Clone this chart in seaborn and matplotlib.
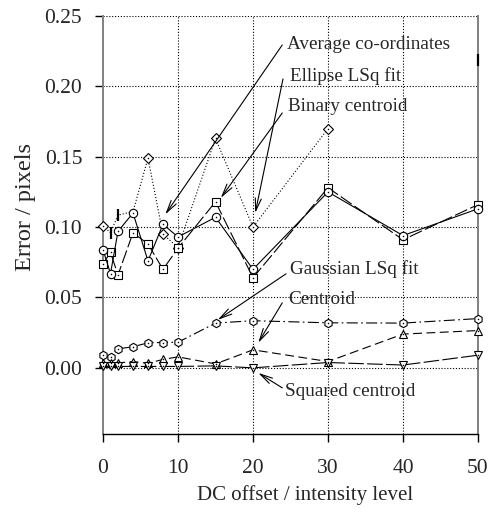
import matplotlib
matplotlib.use("Agg")
import matplotlib.pyplot as plt
import seaborn as sns
import pandas as pd

# ---------------- data ----------------
x_levels = [0, 1, 2, 4, 6, 8, 10, 15, 20, 30, 40, 50]
average_coords = [0.084, 0.067, 0.097, 0.110, 0.076, 0.102, 0.093, 0.107, 0.070, 0.125, 0.094, 0.113]
binary_centroid = [0.074, 0.082, 0.066, 0.096, 0.088, 0.070, 0.085, 0.118, 0.064, 0.128, 0.091, 0.116]
x_ellipse = [0, 1, 2, 4, 6, 8, 10, 15, 20, 30]
ellipse_lsq = [0.101, 0.096, 0.1085, 0.111, 0.149, 0.095, 0.0855, 0.163, 0.100, 0.170]
gaussian_lsq = [0.0092, 0.0078, 0.0135, 0.0150, 0.0178, 0.0180, 0.0182, 0.0318, 0.0335, 0.0320, 0.0318, 0.0350]
centroid = [0.0033, 0.0033, 0.0035, 0.0045, 0.0032, 0.0060, 0.0078, 0.0028, 0.0128, 0.0045, 0.0240, 0.0265]
squared_centroid = [0.0010, 0.0010, 0.0010, 0.0010, 0.0010, 0.0010, 0.0010, 0.0014, 0.0000, 0.0038, 0.0020, 0.0090]
# small vertical bar marks visible in the reference
bar_x = [1, 2, 50]
bar_y = [0.096, 0.1085, 0.2185]

x_ticks = [0, 10, 20, 30, 40, 50]
y_ticks = [0.00, 0.05, 0.10, 0.15, 0.20, 0.25]
x_label = "DC offset / intensity level"
y_label = "Error / pixels"

# annotations: label, text pos, arrow start, arrow tip (data coords)
ann_labels = ["Average co-ordinates", "Ellipse LSq fit", "Binary centroid",
              "Gaussian LSq fit", "Centroid", "Squared centroid"]
ann_text_xy = [(24.5, 0.2301), (24.9, 0.2070), (24.7, 0.1856),
               (24.9, 0.0701), (24.7, 0.0483), (24.3, -0.0168)]
ann_start = [(23.9, 0.2294), (24.0, 0.2053), (23.9, 0.1811),
             (24.4, 0.0668), (23.9, 0.0462), (23.9, -0.0142)]
ann_tip = [(8.3, 0.109), (20.3, 0.110), (15.7, 0.1207),
           (15.3, 0.0341), (20.7, 0.0178), (20.7, -0.0036)]

# ---------------- style ----------------
sns.set_style("ticks")
plt.rcParams["font.family"] = ["Liberation Serif", "DejaVu Serif"]
plt.rcParams["mathtext.fontset"] = "dejavuserif"

fig = plt.figure(figsize=(4.95, 5.12), dpi=100)
ax = fig.add_axes([103 / 495, 1 - 434 / 512, 375 / 495, 418 / 512])
ax.set_xlim(0, 50)
ax.set_ylim(-0.047, 0.25)

# grid (dotted)
for gx in x_ticks[1:-1]:
    ax.axvline(gx, color="black", lw=0.8, linestyle=(0, (1, 1.6)), zorder=1)
for gy in y_ticks:
    ax.axhline(gy, color="black", lw=0.8, linestyle=(0, (1, 1.6)), zorder=1)

common = dict(color="black", lw=0.8, markerfacecolor="white",
              markeredgecolor="black", markeredgewidth=0.8, clip_on=False, zorder=3)

def series(xv, yv, marker, ms, ls, **extra):
    df = pd.DataFrame({"x": xv, "y": yv})
    kw = dict(common)
    kw.update(extra)
    sns.lineplot(data=df, x="x", y="y", ax=ax, marker=marker, markersize=ms,
                 linestyle=ls, sort=False, **kw)
    sns.lineplot(data=df, x="x", y="y", ax=ax, marker=".", markersize=2.2,
                 linestyle="none", color="black", markeredgewidth=0,
                 clip_on=False, zorder=4,
                 **({"markevery": extra["markevery"]} if "markevery" in extra else {}))

series(x_ellipse, ellipse_lsq, "D", 5.2, (0, (1, 1.8)), markevery=[0, 4, 5, 6, 7, 8, 9])
series(x_levels, binary_centroid, "s", 5.6, (0, (12, 3)))
series(x_levels, average_coords, "o", 6.0, "-")
series(x_levels, gaussian_lsq, "h", 6.0, (0, (10, 3, 1.5, 3)))
series(x_levels, centroid, "^", 6.0, (0, (8, 4)))
series(x_levels, squared_centroid, "v", 6.0, (0, (14, 3)))

sns.scatterplot(x=bar_x, y=bar_y, ax=ax, marker="|", s=70, color="black",
                linewidth=1.6, clip_on=False, zorder=5)

for lab, txy, s, t in zip(ann_labels, ann_text_xy, ann_start, ann_tip):
    ax.text(txy[0], txy[1], lab, fontsize=13.8, va="center", ha="left", zorder=6)
    ax.annotate("", xy=t, xytext=s,
                arrowprops=dict(arrowstyle="->, head_length=0.9, head_width=0.22",
                                lw=0.8, color="black", shrinkA=0, shrinkB=0),
                zorder=6)

ax.set_xticks(x_ticks)
ax.set_xticklabels([str(v) for v in x_ticks])
ax.set_yticks(y_ticks)
ax.set_yticklabels([f"{v:.2f}" for v in y_ticks])
ax.tick_params(axis="both", direction="out", length=6, width=1, color="black",
               labelsize=15.5)
ax.tick_params(axis="y", pad=9)
ax.tick_params(axis="x", pad=12)
ax.set_xlabel(x_label, fontsize=15)
ax.set_ylabel(y_label, fontsize=17.5)
ax.xaxis.set_label_coords(0.54, -0.122)
ax.yaxis.set_label_coords(-0.18, 0.543)

ax.spines["top"].set_visible(False)
for side in ("left", "right"):
    ax.spines[side].set_color("#808080")
    ax.spines[side].set_linewidth(1.4)
ax.spines["bottom"].set_color("black")
ax.spines["bottom"].set_linewidth(1.0)
ax.spines["right"].set_visible(True)

fig.savefig("out.png", dpi=100)
